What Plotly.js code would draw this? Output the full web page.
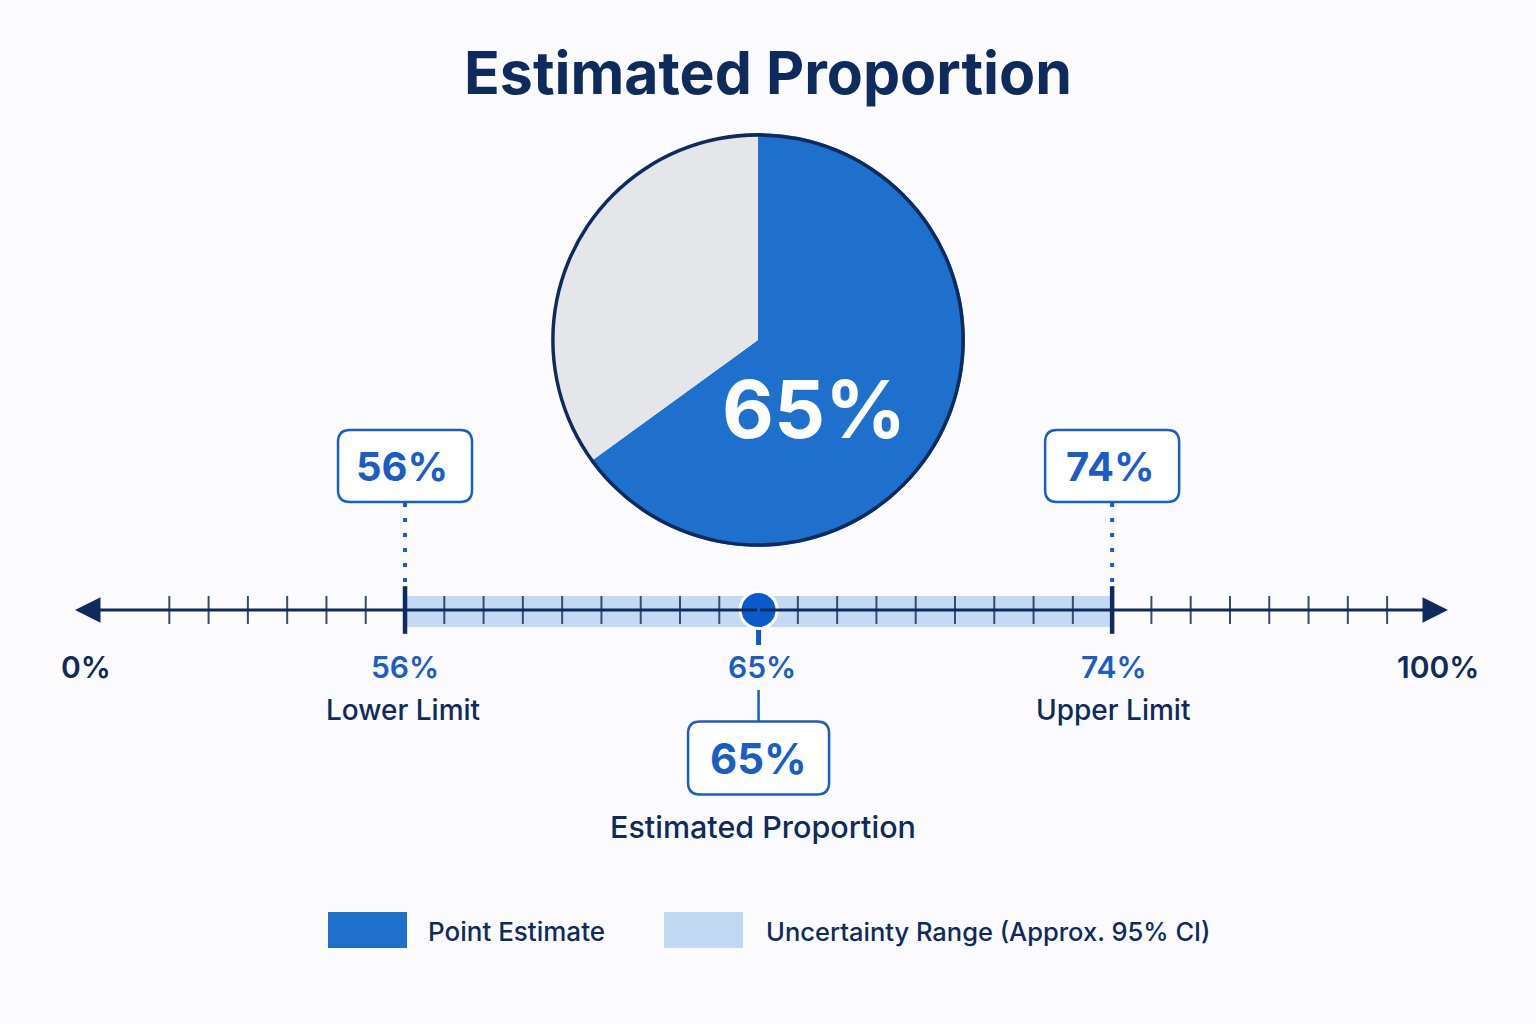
<!DOCTYPE html>
<html>
<head>
<meta charset="utf-8">
<script src="https://cdn.plot.ly/plotly-3.0.1.min.js"></script>
<style>
  html, body { margin: 0; padding: 0; background: #fbfbfd; }
  #chart { width: 1536px; height: 1024px; }
</style>
</head>
<body>
<div id="chart"></div>
<script>
// values
var pieLabels = ['Point Estimate', 'Remainder']
var pieValues = [65, 35]
var estimate = 65
var lowerLimit = 56
var upperLimit = 74
var limitNames = ['Lower Limit', 'Upper Limit']
var endLabels = ['0%', '100%']
var minorTicks = [50, 51, 52, 53, 54, 55, 57, 58, 59, 60, 61, 62, 63, 64, 65, 66, 67, 68,
  69, 70, 71, 72, 73, 75, 76, 77, 78, 79, 80, 81]
var legendNames = ['Point Estimate', 'Uncertainty Range (Approx. 95% CI)']

var NAVY = '#0f2a5c'
var BLUE = '#1a5ec4'
var PIE_BLUE = '#1f70cc'
var PIE_GREY = '#e5e6e9'
var BAND = 'rgba(184,210,242,0.85)'
var FONT = 'Inter, "Open Sans", sans-serif'

// ends of the number line (axis units)
var lineStart = 47.6
var lineEnd = 82.55

// rounded label box, sized in pixels around a data anchor
function roundedBox(xv, yv, w, h, r) {
  var x0 = -w / 2, x1 = w / 2, y0 = -h / 2, y1 = h / 2
  var p = 'M ' + (x0 + r) + ',' + y0 +
    ' L ' + (x1 - r) + ',' + y0 + ' Q ' + x1 + ',' + y0 + ' ' + x1 + ',' + (y0 + r) +
    ' L ' + x1 + ',' + (y1 - r) + ' Q ' + x1 + ',' + y1 + ' ' + (x1 - r) + ',' + y1 +
    ' L ' + (x0 + r) + ',' + y1 + ' Q ' + x0 + ',' + y1 + ' ' + x0 + ',' + (y1 - r) +
    ' L ' + x0 + ',' + (y0 + r) + ' Q ' + x0 + ',' + y0 + ' ' + (x0 + r) + ',' + y0 + ' Z'
  return {
    type: 'path', xref: 'x', yref: 'y', xsizemode: 'pixel', ysizemode: 'pixel',
    xanchor: xv, yanchor: yv, path: p,
    line: {color: BLUE, width: 2.5}, fillcolor: '#ffffff', layer: 'above'
  }
}

var pieDomain = {x: [0.3587, 0.6283], y: [0.466, 0.870]}

var traces = [
  // pie
  {
    type: 'pie', labels: pieLabels, values: pieValues, sort: false,
    direction: 'clockwise', rotation: 0, textinfo: 'none', hoverinfo: 'label+percent',
    marker: {colors: [PIE_BLUE, PIE_GREY], line: {width: 0}},
    domain: pieDomain, showlegend: false
  },
  // outline ring of the pie
  {
    type: 'pie', labels: ['outline'], values: [1], hole: 0.983, textinfo: 'none',
    hoverinfo: 'skip', marker: {colors: [NAVY], line: {width: 0}},
    domain: pieDomain, showlegend: false
  },
  // minor ticks
  {
    type: 'scatter', mode: 'markers', x: minorTicks, y: minorTicks.map(function () { return 0 }),
    marker: {symbol: 'line-ns', size: 20, line: {color: '#3a4b6e', width: 2}},
    hoverinfo: 'skip', showlegend: false
  },
  // limit ticks
  {
    type: 'scatter', mode: 'markers', x: [lowerLimit, upperLimit], y: [0, 0],
    marker: {symbol: 'line-ns', size: 34, line: {color: NAVY, width: 4.5}},
    hoverinfo: 'skip', showlegend: false
  },
  // dotted connectors from the limit boxes
  {
    type: 'scatter', mode: 'lines', x: [lowerLimit, lowerLimit], y: [107, 22],
    line: {color: BLUE, width: 4, dash: '4px,11px'}, hoverinfo: 'skip', showlegend: false
  },
  {
    type: 'scatter', mode: 'lines', x: [upperLimit, upperLimit], y: [107, 22],
    line: {color: BLUE, width: 4, dash: '4px,11px'}, hoverinfo: 'skip', showlegend: false
  },
  // stem under the estimate marker
  {
    type: 'scatter', mode: 'lines', x: [estimate, estimate], y: [-10, -35],
    line: {color: '#0b5bcc', width: 5}, hoverinfo: 'skip', showlegend: false
  },
  // connector down to the estimate box
  {
    type: 'scatter', mode: 'lines', x: [estimate, estimate], y: [-80, -113],
    line: {color: BLUE, width: 2.5}, hoverinfo: 'skip', showlegend: false
  },
  // point estimate
  {
    type: 'scatter', mode: 'markers', x: [estimate], y: [0],
    marker: {size: 37, color: '#0b5bcc', line: {color: '#ffffff', width: 3}},
    hoverinfo: 'x', showlegend: false
  }
]

var shapes = [
  // uncertainty band
  {
    type: 'rect', xref: 'x', yref: 'y', x0: lowerLimit, x1: upperLimit, y0: -17, y1: 14,
    fillcolor: BAND, line: {width: 0}, layer: 'below'
  },
  roundedBox(lowerLimit, 144, 134, 72, 12),
  roundedBox(upperLimit, 144, 134, 72, 12),
  roundedBox(estimate, -148, 141, 73, 12),
  // legend swatches
  {type: 'rect', xref: 'paper', yref: 'paper', x0: 328 / 1536, x1: 407 / 1536,
    y0: 1 - 948 / 1024, y1: 1 - 912 / 1024, fillcolor: PIE_BLUE, line: {width: 0}},
  {type: 'rect', xref: 'paper', yref: 'paper', x0: 664 / 1536, x1: 743 / 1536,
    y0: 1 - 948 / 1024, y1: 1 - 912 / 1024, fillcolor: '#c0d8f2', line: {width: 0}}
]

function pct(v) { return v + '%' }

var annotations = [
  // number line with arrow heads at both ends
  {x: lineStart, y: 0, ax: estimate, ay: 0, xref: 'x', yref: 'y', axref: 'x', ayref: 'y',
    text: '', showarrow: true, arrowhead: 2, arrowsize: 1.7, arrowwidth: 3, arrowcolor: NAVY, standoff: 0},
  {x: lineEnd, y: 0, ax: estimate, ay: 0, xref: 'x', yref: 'y', axref: 'x', ayref: 'y',
    text: '', showarrow: true, arrowhead: 2, arrowsize: 1.7, arrowwidth: 3, arrowcolor: NAVY, standoff: 0},
  // value in the pie
  {x: 814 / 1536, y: 1 - 408 / 1024, xref: 'paper', yref: 'paper', xanchor: 'center', yanchor: 'middle',
    showarrow: false, text: '<b>' + pct(pieValues[0]) + '</b>',
    font: {family: FONT, size: 80, color: '#ffffff'}},
  // boxed limit values
  {x: lowerLimit, y: 144, xref: 'x', yref: 'y', showarrow: false, xshift: -3,
    text: '<b>' + pct(lowerLimit) + '</b>', font: {family: FONT, size: 40, color: BLUE}},
  {x: upperLimit, y: 144, xref: 'x', yref: 'y', showarrow: false, xshift: -2,
    text: '<b>' + pct(upperLimit) + '</b>', font: {family: FONT, size: 40, color: BLUE}},
  {x: estimate, y: -148, xref: 'x', yref: 'y', showarrow: false,
    text: '<b>' + pct(estimate) + '</b>', font: {family: FONT, size: 42, color: BLUE}},
  // labels under the line
  {x: lowerLimit, y: -57, xref: 'x', yref: 'y', showarrow: false,
    text: pct(lowerLimit), font: {family: FONT, size: 30, color: BLUE, weight: 600}},
  {x: estimate, y: -57, xref: 'x', yref: 'y', showarrow: false, xshift: 3,
    text: pct(estimate), font: {family: FONT, size: 30, color: BLUE, weight: 600}},
  {x: upperLimit, y: -57, xref: 'x', yref: 'y', showarrow: false, xshift: 2,
    text: pct(upperLimit), font: {family: FONT, size: 30, color: BLUE, weight: 600}},
  {x: lowerLimit, y: -100, xref: 'x', yref: 'y', showarrow: false, xshift: -2,
    text: limitNames[0], font: {family: FONT, size: 28, color: NAVY, weight: 500}},
  {x: upperLimit, y: -100, xref: 'x', yref: 'y', showarrow: false, xshift: 1,
    text: limitNames[1], font: {family: FONT, size: 28, color: NAVY, weight: 500}},
  {x: lineStart, y: -57, xref: 'x', yref: 'y', showarrow: false, xshift: 11,
    text: endLabels[0], font: {family: FONT, size: 30, color: NAVY, weight: 600}},
  {x: lineEnd, y: -57, xref: 'x', yref: 'y', showarrow: false, xshift: -10,
    text: endLabels[1], font: {family: FONT, size: 30, color: NAVY, weight: 600}},
  {x: estimate, y: -216, xref: 'x', yref: 'y', showarrow: false, xshift: 4,
    text: 'Estimated Proportion', font: {family: FONT, size: 30.5, color: NAVY, weight: 500}},
  // legend text
  {x: 426 / 1536, y: 1 - 931 / 1024, xref: 'paper', yref: 'paper', xanchor: 'left', yanchor: 'middle',
    showarrow: false, text: legendNames[0], font: {family: FONT, size: 26, color: NAVY, weight: 500}},
  {x: 764 / 1536, y: 1 - 931 / 1024, xref: 'paper', yref: 'paper', xanchor: 'left', yanchor: 'middle',
    showarrow: false, text: legendNames[1], font: {family: FONT, size: 25.5, color: NAVY, weight: 500}}
]

var layout = {
  width: 1536,
  height: 1024,
  margin: {l: 0, r: 0, t: 0, b: 0},
  paper_bgcolor: '#fbfbfd',
  plot_bgcolor: 'rgba(0,0,0,0)',
  title: {
    text: '<b>Estimated Proportion</b>',
    x: 0.5, xanchor: 'center', y: 1 - 73 / 1024, yanchor: 'middle',
    font: {family: FONT, size: 59, color: NAVY}
  },
  xaxis: {range: [45.69, 84.79], visible: false, fixedrange: true},
  yaxis: {range: [-414, 610], visible: false, fixedrange: true},
  showlegend: false,
  shapes: shapes,
  annotations: annotations
}

Plotly.newPlot('chart', traces, layout, {staticPlot: true})
</script>
</body>
</html>
